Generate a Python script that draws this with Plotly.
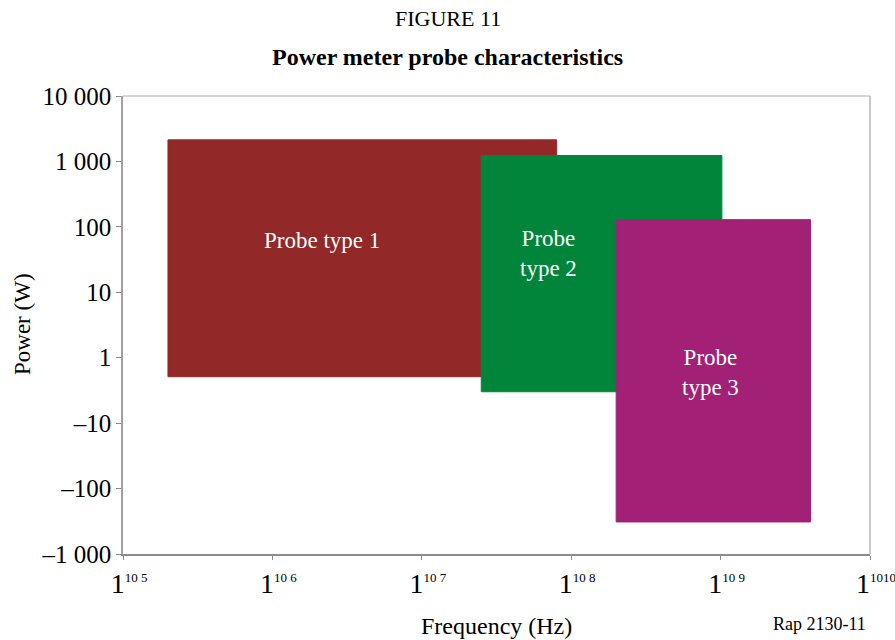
import math
import plotly.graph_objects as go

# Y axis is an ordinal power scale: evenly spaced levels
power_levels = ["–1 000", "–100", "–10", "1", "10", "100", "1 000", "10 000"]
level_pos = list(range(len(power_levels)))

# Frequency ticks (Hz)
freq_ticks = [1e5, 1e6, 1e7, 1e8, 1e9, 1e10]
freq_exponents = ["10 5", "10 6", "10 7", "10 8", "10 9", "1010"]

# Probe ranges: frequency min/max (Hz), power level bottom/top (in axis level units)
probe_names = ["Probe type 1", "Probe<br>type 2", "Probe<br>type 3"]
freq_min = [2.0e5, 2.5e7, 2.0e8]
freq_max = [8.0e7, 1.02e9, 4.0e9]
level_bottom = [2.71, 2.48, 0.49]
level_top = [6.33, 6.09, 5.11]
label_freq = [2.15e6, 7.0e7, 8.5e8]
label_level = [4.79, 4.59, 2.78]
colors = ["#922828", "#00853A", "#A22076"]

FONT = "Liberation Serif, Times New Roman, serif"

freq_ticktext = ["1<sup><span style='font-size:13px'>" + e + "</span></sup>"
                 for e in freq_exponents]

fig = go.Figure()
for i in range(len(probe_names)):
    fig.add_trace(go.Scatter(
        x=[freq_min[i], freq_max[i], freq_max[i], freq_min[i], freq_min[i]],
        y=[level_bottom[i], level_bottom[i], level_top[i], level_top[i], level_bottom[i]],
        mode="lines", fill="toself", fillcolor=colors[i],
        line=dict(color=colors[i], width=1), hoverinfo="skip", showlegend=False))
    fig.add_annotation(x=math.log10(label_freq[i]), y=label_level[i], xref="x", yref="y",
                       text=probe_names[i], showarrow=False,
                       font=dict(family=FONT, size=23, color="white"))

fig.update_layout(
    width=895, height=640,
    margin=dict(l=123, r=25, t=96, b=86),
    paper_bgcolor="white", plot_bgcolor="white",
    showlegend=False,
    font=dict(family=FONT, color="black"),
)
fig.update_xaxes(type="log", range=[5, 10], tickvals=freq_ticks, ticktext=freq_ticktext,
                 automargin=False, ticklabeloverflow="allow",
                 showgrid=False, zeroline=False, showline=True, linecolor="#8c8c8c",
                 linewidth=1.5, mirror=False, ticks="outside", ticklen=4, tickcolor="#8c8c8c",
                 ticklabelshift=6,
                 tickfont=dict(size=28, family=FONT))
fig.update_yaxes(range=[0, 7], tickvals=level_pos, ticktext=power_levels,
                 automargin=False,
                 showgrid=False, zeroline=False, showline=True, linecolor="#a0a0a0",
                 linewidth=1.5, ticks="outside", ticklen=5, tickcolor="#8c8c8c",
                 tickfont=dict(size=25, family=FONT))

# light frame on top and right
fig.add_shape(type="line", xref="paper", yref="paper", x0=0, x1=1, y0=1, y1=1,
              line=dict(color="#c8c8c8", width=1.5))
fig.add_shape(type="line", xref="paper", yref="paper", x0=1, x1=1, y0=0, y1=1,
              line=dict(color="#b4b4b4", width=1.5))

title_x = (447.5 - 123) / (895 - 123 - 25)
fig.add_annotation(text="FIGURE 11", xref="paper", yref="paper", x=title_x, y=1,
                   yshift=78, showarrow=False, xanchor="center", yanchor="middle",
                   font=dict(family=FONT, size=22))
fig.add_annotation(text="<b>Power meter probe characteristics</b>", xref="paper", yref="paper",
                   x=title_x, y=1, yshift=39, showarrow=False, xanchor="center", yanchor="middle",
                   font=dict(family=FONT, size=24))
fig.add_annotation(text="Power (W)", xref="paper", yref="paper", x=0, y=0.5,
                   xshift=-101, yshift=1, showarrow=False, textangle=-90,
                   xanchor="center", yanchor="middle",
                   font=dict(family=FONT, size=23))
fig.add_annotation(text="Frequency (Hz)", xref="paper", yref="paper", x=0.5, y=0,
                   yshift=-72, xshift=0, showarrow=False, xanchor="center", yanchor="middle",
                   font=dict(family=FONT, size=24))
fig.add_annotation(text="Rap 2130-11", xref="paper", yref="paper", x=1, y=0,
                   xshift=-2, yshift=-70, showarrow=False, xanchor="right", yanchor="middle",
                   font=dict(family=FONT, size=18))

fig.write_html("out.html", config={"displayModeBar": False},
               post_script="document.body.style.margin='0px';")
